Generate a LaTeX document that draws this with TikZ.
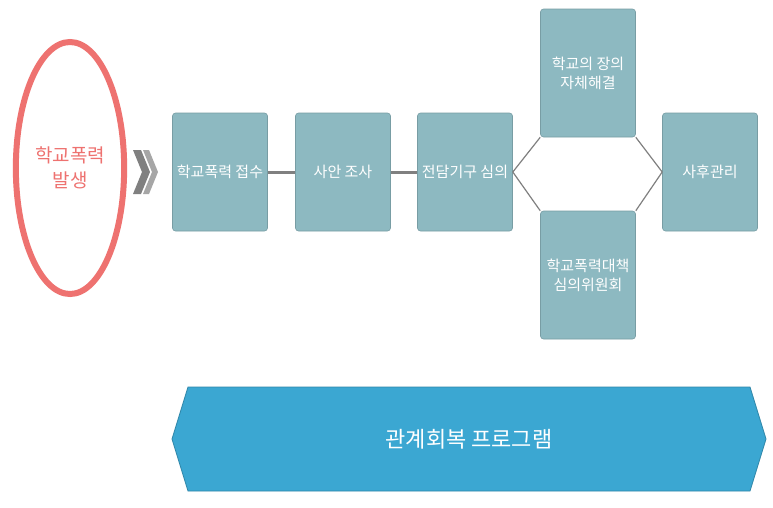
\documentclass[tikz,border=0pt]{standalone}
\usepackage{fontspec}
\setmainfont{Noto Sans CJK KR}
\usetikzlibrary{shapes.geometric}
\definecolor{boxc}{HTML}{8DB9C1}
\definecolor{redc}{HTML}{EE7270}
\definecolor{bluec}{HTML}{3BA7D2}
\definecolor{linec}{HTML}{808080}
\begin{document}
\begin{tikzpicture}[x=1pt,y=-1pt,
  stepbox/.style={draw=boxc!85!black,line width=0.6pt,fill=boxc,rounded corners=3pt,minimum width=95pt,minimum height=118pt,text=white,font=\fontsize{15}{19}\selectfont,align=center,inner sep=0pt},
  conn/.style={draw=linec,line width=1.2pt}]
\useasboundingbox (0,0) rectangle (773,507);
\fill[white] (0,0) rectangle (773,507);
\node[ellipse,draw=redc,line width=6pt,fill=white,minimum width=92pt,minimum height=252pt,text=redc,font=\fontsize{19}{25}\selectfont,align=center] (occ) at (70,168) {학교폭력\\발생};
\fill[linec] (133,150) -- (141,150) -- (150,172) -- (141,194) -- (133,194) -- (142,172) -- cycle;
\fill[linec!70] (143,150) -- (149,150) -- (158,172) -- (149,194) -- (143,194) -- (152,172) -- cycle;
\node[stepbox] (b1) at (220,172) {학교폭력 접수};
\node[stepbox] (b2) at (343,172) {사안 조사};
\node[stepbox] (b3) at (465,172) {전담기구 심의};
\node[stepbox,minimum height=128pt] (b4) at (588,73) {학교의 장의\\자체해결};
\node[stepbox,minimum height=128pt] (b5) at (588,275) {학교폭력대책\\심의위원회};
\node[stepbox] (b6) at (710,172) {사후관리};
\draw[conn,line width=3pt] (b1) -- (b2);
\draw[conn,line width=3pt] (b2) -- (b3);
\draw[conn] (b3.east) -- (b4.south west);
\draw[conn] (b3.east) -- (b5.north west);
\draw[conn] (b4.south east) -- (b6.west);
\draw[conn] (b5.north east) -- (b6.west);
\node[fill=bluec,draw=bluec!80!black,line width=0.8pt,
  shape=rectangle,minimum width=560pt,minimum height=104pt,inner sep=0pt,opacity=0] (bn) at (469,439) {};
\fill[bluec,draw=bluec!80!black,line width=0.8pt] (188,387) -- (750,387) -- (766,439) -- (750,491) -- (188,491) -- (172,439) -- cycle;
\node[text=white,font=\fontsize{22}{26}\selectfont] at (bn) {관계회복 프로그램};
\end{tikzpicture}
\end{document}
